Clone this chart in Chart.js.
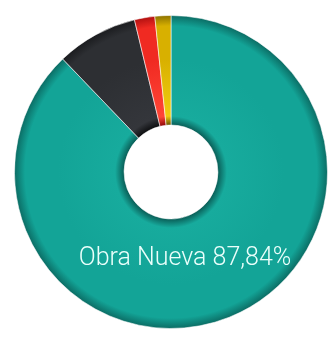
<!DOCTYPE html>
<html>
<head>
<meta charset="utf-8">
<script src="https://cdn.jsdelivr.net/npm/chart.js@4.4.1/dist/chart.umd.min.js"></script>
<style>
  html, body { margin: 0; padding: 0; background: #fff; }
  #wrap { width: 328px; height: 341px; }
</style>
</head>
<body>
<div id="wrap"><canvas id="chart"></canvas></div>
<script>
// data
const labels = ['Obra Nueva', 'Rehabilitación', 'Reforma', 'Otros'];
const shares = [87.84, 8.41, 2.10, 1.65];
const colors = [
    ['#0a5f58', '#17ab9d', '#13a497', '#0b6a62'],
    ['#0e0f11', '#34363b', '#2d2f33', '#1a1b1e'],
    ['#900a0a', '#ff4636', '#f02a22', '#b01010'],
    ['#6a5400', '#f0cc10', '#d8b000', '#8a7000']
];
const CUTOUT = 0.30;

// radial shading so the ring looks like a torus
function shade(ctx) {
    const chart = ctx.chart;
    const area = chart.chartArea;
    const c = colors[ctx.dataIndex];
    if (!area) return c[2];
    const cx = (area.left + area.right) / 2;
    const cy = (area.top + area.bottom) / 2;
    const outer = Math.min(area.right - area.left, area.bottom - area.top) / 2;
    const g = chart.ctx.createRadialGradient(cx, cy, outer * CUTOUT, cx, cy, outer);
    g.addColorStop(0, c[0]);
    g.addColorStop(0.08, c[1]);
    g.addColorStop(0.6, c[2]);
    g.addColorStop(0.9, c[2]);
    g.addColorStop(1, c[3]);
    return g;
}

const sliceLabel = {
    id: 'sliceLabel',
    afterDatasetsDraw(chart) {
        const arc = chart.getDatasetMeta(0).data[0];
        const c = chart.ctx;
        c.save();
        c.font = '300 25px Roboto, "Open Sans", sans-serif';
        c.fillStyle = '#eafffb';
        c.textAlign = 'center';
        c.textBaseline = 'middle';
        const text = labels[0] + ' ' + shares[0].toFixed(2).replace('.', ',') + '%';
        c.fillText(text, arc.x + 14, arc.y + 87);
        c.restore();
    }
};

new Chart(document.getElementById('chart'), {
    type: 'doughnut',
    data: {
        labels: labels,
        datasets: [{
            data: shares,
            backgroundColor: shade,
            borderColor: 'rgba(255,255,255,0.55)',
            borderWidth: 1
        }]
    },
    options: {
        responsive: true,
        maintainAspectRatio: false,
        animation: false,
        cutout: (CUTOUT * 100) + '%',
        layout: { padding: { left: 14, top: 3, right: 0, bottom: 0 } },
        plugins: {
            legend: { display: false },
            tooltip: { enabled: false }
        }
    },
    plugins: [sliceLabel]
});
</script>
</body>
</html>
